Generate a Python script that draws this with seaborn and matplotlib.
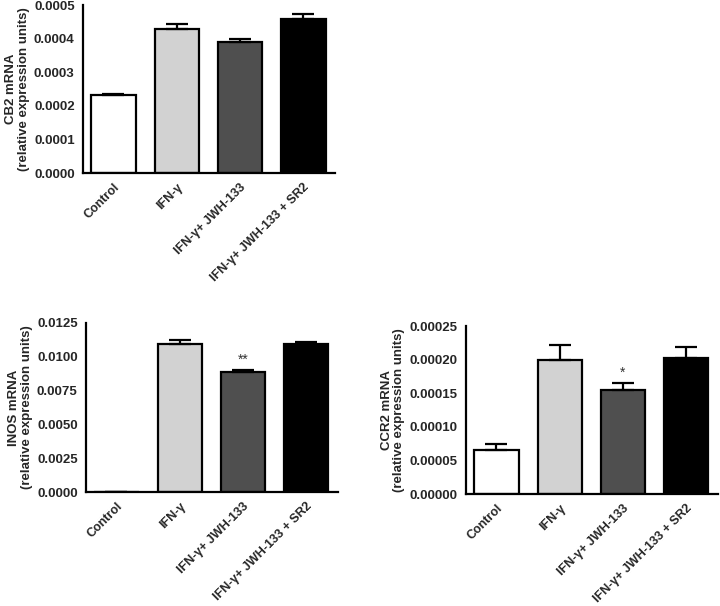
import numpy as np
import pandas as pd
import seaborn as sns
import matplotlib.pyplot as plt
from matplotlib.ticker import FormatStrFormatter

GROUPS = ["Control", "IFN-γ", "IFN-γ+ JWH-133", "IFN-γ+ JWH-133 + SR2"]
COLORS = ["#ffffff", "#d2d2d2", "#4f4f4f", "#000000"]

CB2_MEAN = [0.000233, 0.000428, 0.000389, 0.000459]
CB2_SEM = [0.0000010, 0.0000160, 0.0000100, 0.0000140]

INOS_MEAN = [0.00001, 0.01092, 0.00885, 0.01092]
INOS_SEM = [0.0, 0.00030, 0.00020, 0.00017]

CCR2_MEAN = [0.0000650, 0.000199, 0.000155, 0.000203]
CCR2_SEM = [0.0000100, 0.0000230, 0.0000100, 0.0000160]


def draw_panel(ax, mean, sem, ylabel, ymax, step, fmt, stars=None):
    df = pd.DataFrame({"group": GROUPS, "value": mean})
    sns.barplot(data=df, x="group", y="value", hue="group", palette=COLORS,
                errorbar=None, width=0.7, edgecolor="black", linewidth=1.6,
                legend=False, ax=ax)
    ax.errorbar(np.arange(len(GROUPS)), mean, yerr=[np.zeros(len(sem)), sem],
                fmt="none", ecolor="black", elinewidth=1.6, capsize=8,
                capthick=1.6, zorder=1)
    ax.set_ylim(0, ymax)
    ax.set_xlim(-0.48, 3.5)
    ax.set_yticks(np.arange(0, ymax + step / 2, step))
    ax.yaxis.set_major_formatter(FormatStrFormatter(fmt))
    ax.set_xlabel("")
    ax.set_ylabel(ylabel, fontsize=9.5, fontweight="bold", linespacing=1.05,
                  labelpad=3)
    ax.set_xticks(range(len(GROUPS)))
    ax.set_xticklabels(GROUPS, rotation=45, ha="right", rotation_mode="anchor",
                       fontsize=9, fontweight="bold")
    for lab in ax.get_yticklabels():
        lab.set_fontweight("bold")
        lab.set_fontsize(9.5)
    ax.tick_params(axis="both", direction="out", length=4, width=1.6, pad=2)
    sns.despine(ax=ax)
    for side in ["left", "bottom"]:
        ax.spines[side].set_linewidth(1.6)
        ax.spines[side].set_color("black")
    ax.grid(False)
    if stars:
        for i, s in stars.items():
            ax.text(i, mean[i] + sem[i] + ymax * 0.06, s, ha="center",
                    va="center", fontsize=10, color="#333333")
    ax.patch.set_alpha(0)


def main():
    sns.set_theme(style="white")
    plt.rcParams["font.family"] = ["Liberation Sans", "DejaVu Sans"]

    fig = plt.figure(figsize=(7.2, 6.06), dpi=100)
    ax1 = fig.add_axes([0.1153, 0.7145, 0.35, 0.277])
    ax2 = fig.add_axes([0.1194, 0.1881, 0.35, 0.279])
    ax3 = fig.add_axes([0.6472, 0.1848, 0.35, 0.277])

    draw_panel(ax1, CB2_MEAN, CB2_SEM, "CB2 mRNA\n(relative expression units)",
               0.0005, 0.0001, "%.4f")
    draw_panel(ax2, INOS_MEAN, INOS_SEM, "INOS mRNA\n(relative expression units)",
               0.0125, 0.0025, "%.4f", stars={2: "**"})
    draw_panel(ax3, CCR2_MEAN, CCR2_SEM, "CCR2 mRNA\n(relative expression units)",
               0.00025, 0.00005, "%.5f", stars={2: "*"})

    fig.savefig("out.png", dpi=100, facecolor="white")
    plt.close(fig)


if __name__ == "__main__":
    main()
